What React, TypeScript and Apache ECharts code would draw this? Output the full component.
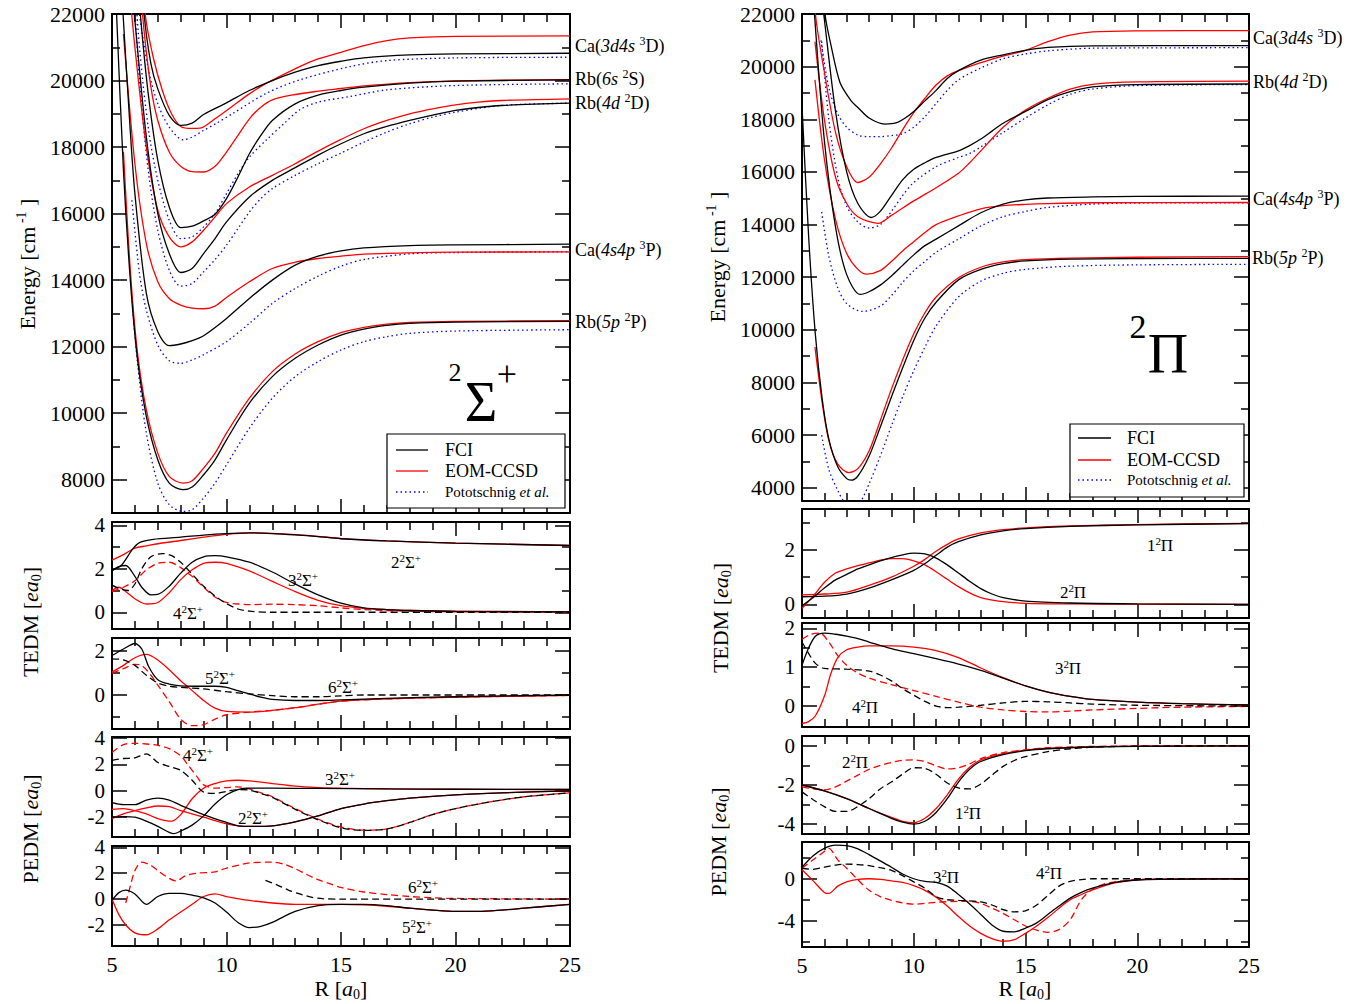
import React, { useEffect, useRef } from "react";
import * as echarts from "echarts";

const FONT = "'Liberation Serif', 'Times New Roman', Times, serif";
const BLACK = "#000000";
const RED = "#ff0000";
const BLUE = "#0000ff";

// ---------- tick values ----------
const xTicks = [5, 10, 15, 20, 25];
const sigEnergyTicks = [8000, 10000, 12000, 14000, 16000, 18000, 20000, 22000];
const sigEnergyMinor = [7000, 9000, 11000, 13000, 15000, 17000, 19000, 21000];
const piEnergyTicks = [4000, 6000, 8000, 10000, 12000, 14000, 16000, 18000, 20000, 22000];
const piEnergyMinor = [5000, 7000, 9000, 11000, 13000, 15000, 17000, 19000, 21000];
const sTedm1Ticks = [0, 2, 4];
const sTedm1Minor = [1, 3];
const sTedm2Ticks = [0, 2];
const sTedm2Minor = [-1, 1];
const sPedm1Ticks = [-2, 0, 2, 4];
const sPedm2Ticks = [-2, 0, 2, 4];
const pTedm1Ticks = [0, 2];
const pTedm1Minor = [1, 3];
const pTedm2Ticks = [0, 1, 2];
const pTedm2Minor = [0.5, 1.5];
const pPedm1Ticks = [-4, -2, 0];
const pPedm1Minor = [-3, -1];
const pPedm2Ticks = [-4, 0];
const pPedm2Minor = [-6, -2, 2];

// ---------- 2Sigma+ potential energy curves [R (a0), E (cm^-1)] ----------
const sig2Fci = [[5.05,24500],[5.2,22000],[5.5,17300],[5.8,14000],[6.1,11700],[6.5,9900],[7,8600],[7.5,7900],[8.1,7700],[8.5,7780],[9,8150],[9.5,8600],[10,9200],[11,10300],[12,11100],[13,11650],[14,12050],[15,12350],[16,12530],[17,12640],[18,12700],[20,12740],[25,12760]];
const sig2Eom = [[5.5,17860],[5.8,14300],[6.1,11900],[6.5,10100],[7,8800],[7.5,8100],[8.1,7900],[8.5,7970],[9,8350],[9.5,8800],[10,9400],[11,10450],[12,11250],[13,11780],[14,12150],[15,12420],[16,12580],[17,12680],[18,12730],[20,12760],[25,12780]];
const sig2Pot = [[5.87,13500],[6.1,11600],[6.5,9400],[7,7900],[7.5,7250],[8.1,7050],[8.5,7100],[9,7450],[9.5,7900],[10,8450],[11,9550],[12,10450],[13,11100],[14,11550],[15,11900],[16,12150],[17,12300],[18,12400],[20,12470],[25,12510]];
const sig3Fci = [[5.3,24000],[5.5,21800],[5.75,19000],[6,16600],[6.5,13600],[7,12450],[7.5,12030],[8,12080],[8.5,12180],[9,12330],[10,12850],[11,13450],[12,14000],[13,14450],[14,14720],[15,14880],[16,14970],[18,15040],[20,15060],[25,15080]];
const sig3Eom = [[5.5,21400],[6,17500],[6.5,15100],[7,13950],[7.5,13450],[8,13250],[8.5,13160],[9,13140],[9.5,13220],[10,13480],[11,13950],[12,14350],[13,14540],[14,14650],[15,14720],[16,14780],[18,14820],[20,14840],[25,14850]];
const sig3Pot = [[5.87,16400],[6.2,14200],[6.5,13100],[7,12050],[7.5,11580],[8,11500],[8.5,11600],[9,11760],[10,12150],[11,12700],[12,13300],[13,13750],[14,14120],[15,14420],[16,14620],[18,14790],[20,14830],[25,14850]];
const sig4Fci = [[5.7,24000],[6,21800],[6.5,18300],[7,16000],[7.5,14800],[8,14230],[8.5,14350],[9,14800],[9.5,15250],[10,15750],[11,16500],[12,17000],[13,17380],[14,17760],[15,18100],[16,18400],[17,18620],[18,18800],[19,18960],[20,19100],[21,19190],[22,19250],[25,19320]];
const sig4Eom = [[5.6,24000],[6,21000],[6.5,18000],[7,16100],[7.5,15300],[8,15000],[8.5,15150],[9,15500],[9.5,15900],[10,16300],[11,16800],[12,17150],[13,17500],[14,17880],[15,18230],[16,18550],[17,18800],[18,19000],[19,19150],[20,19270],[21,19350],[22,19400],[25,19450]];
const sig4Pot = [[5.85,24000],[6.2,20000],[6.6,17200],[7,15500],[7.5,14300],[8,13820],[8.5,13900],[9,14250],[9.5,14620],[10,15050],[10.5,15550],[11,16050],[11.5,16450],[12,16750],[13,17150],[14,17500],[15,17820],[16,18150],[17,18450],[18,18700],[19,18900],[20,19050],[22,19250],[25,19320]];
const sig5Fci = [[6,24000],[6.3,21500],[6.6,19500],[7,17600],[7.5,16200],[8,15580],[8.5,15620],[9,15780],[9.5,15980],[10,16450],[10.5,17100],[11,17800],[11.5,18350],[12,18800],[13,19300],[14,19560],[15,19700],[16,19800],[18,19920],[20,19980],[25,20020]];
const sig5Eom = [[6.1,24000],[6.4,21500],[6.7,19800],[7,18800],[7.5,17850],[8,17420],[8.5,17260],[9,17250],[9.5,17420],[10,17850],[10.5,18350],[11,18850],[11.5,19200],[12,19420],[13,19580],[14,19680],[15,19760],[16,19840],[18,19940],[20,19990],[25,20030]];
const sig5Pot = [[5.9,24000],[6.2,21000],[6.6,18500],[7,17000],[7.5,15800],[8,15250],[8.5,15300],[9,15600],[9.5,16000],[10,16600],[10.5,17200],[11,17700],[11.75,18220],[12.5,18700],[13.2,19120],[14,19350],[15.4,19520],[17,19720],[20,19850],[25,19900]];
const sig6Fci = [[6.2,24000],[6.4,22000],[6.7,20500],[7,19750],[7.5,18950],[8,18650],[8.5,18720],[9,18980],[10,19330],[11,19700],[12,20000],[13,20250],[14,20450],[15,20580],[16,20680],[18,20770],[20,20800],[25,20820]];
const sig6Eom = [[6.3,24000],[6.45,22000],[6.8,20700],[7.2,19700],[7.6,19000],[8,18620],[8.5,18560],[8.9,18580],[9.5,18850],[10.3,19250],[11,19600],[11.75,19920],[13.2,20420],[14,20650],[15,20850],[16,21050],[17,21200],[18,21280],[20,21330],[25,21340]];
const sig6Pot = [[5.9,24000],[6.2,22000],[6.6,20300],[7,19300],[7.5,18600],[8.1,18220],[8.5,18300],[9,18500],[9.57,18720],[10.3,19020],[11.75,19620],[13.2,20020],[15.4,20420],[17,20600],[20,20680],[25,20700]];

// ---------- 2Pi potential energy curves ----------
const pi1Fci = [[5,18500],[5.3,13500],[5.6,9800],[5.9,7400],[6.2,5850],[6.6,4800],[7,4350],[7.2,4290],[7.5,4450],[8,5200],[8.5,6300],[9,7450],[9.5,8550],[10,9600],[10.5,10450],[11,11050],[12,11900],[13,12300],[14,12520],[15,12620],[17,12690],[20,12710],[25,12720]];
const pi1Eom = [[5.58,9350],[5.9,7250],[6.2,5800],[6.6,4900],[7.1,4580],[7.5,4730],[8,5400],[8.5,6550],[9,7750],[9.5,8850],[10,9850],[10.5,10650],[11,11250],[12,11980],[13,12380],[14,12580],[15,12670],[17,12730],[20,12760],[25,12780]];
const pi1Pot = [[5.88,6000],[6.2,4700],[6.6,3900],[6.9,3450],[7.25,3250],[7.6,3450],[8,4150],[8.5,5200],[9,6350],[9.5,7450],[10,8450],[10.5,9350],[11,10150],[12,11250],[13,11850],[14,12150],[15,12300],[17,12420],[20,12470],[25,12490]];
const pi2Fci = [[5.4,24000],[5.6,21500],[6,17200],[6.5,13900],[7,12100],[7.6,11350],[8,11450],[8.5,11700],[9,12050],[9.5,12450],[10,12850],[10.5,13200],[11,13450],[12,13950],[13,14450],[14,14780],[15,14940],[16,15010],[18,15050],[20,15070],[25,15080]];
const pi2Eom = [[5.58,19500],[6,16500],[6.5,14200],[7,12900],[7.5,12300],[7.9,12120],[8.5,12250],[9,12600],[9.5,13000],[10,13350],[10.5,13700],[11,14000],[12,14330],[13,14600],[14,14720],[15,14770],[16,14800],[18,14830],[25,14840]];
const pi2Pot = [[5.88,14480],[6.2,12800],[6.6,11600],[7,11000],[7.7,10700],[8.5,10900],[9,11300],[9.5,11800],[10,12250],[10.5,12600],[11,12950],[12,13450],[13,13950],[14,14300],[15,14500],[16,14650],[18,14780],[20,14820],[25,14830]];
const pi3Fci = [[5.7,24000],[6,21800],[6.5,18300],[7,16000],[7.5,14800],[8.1,14270],[8.5,14500],[9,15100],[9.5,15700],[10,16100],[10.5,16350],[11,16550],[12,16800],[12.5,17000],[13,17250],[13.5,17550],[14,17850],[15,18300],[16,18750],[17,19050],[18,19230],[20,19320],[25,19340]];
const pi3Eom = [[5.58,20950],[6,18000],[6.5,15800],[7,14800],[7.5,14300],[8.4,14050],[9,14350],[10,14900],[11,15400],[12,15950],[12.5,16350],[13,16800],[14,17700],[15,18350],[16,18800],[17,19150],[18,19330],[20,19420],[25,19450]];
const pi3Pot = [[5.88,20950],[6.2,18000],[6.6,15800],[7,14700],[7.5,14100],[8,13870],[8.5,14000],[9,14500],[9.5,15100],[10,15600],[11,16200],[12,16550],[12.5,16700],[13,16950],[14,17500],[15,18050],[16,18550],[17,18950],[18,19150],[20,19280],[25,19320]];
const pi4Fci = [[5.9,24000],[6.03,22000],[6.3,20800],[6.7,19400],[7.2,18700],[7.5,18450],[8,18050],[8.7,17820],[9.2,17860],[9.6,18040],[10,18300],[10.5,18700],[11,19100],[11.5,19550],[12,19850],[13,20250],[14,20450],[15,20620],[16,20730],[18,20790],[25,20800]];
const pi4Eom = [[5.5,24000],[5.6,22000],[6,19800],[6.5,17500],[7,16200],[7.5,15600],[8,15800],[8.5,16300],[9,16900],[9.5,17600],[10,18250],[10.5,18800],[11,19300],[11.5,19650],[12,19850],[13,20150],[14,20400],[15,20620],[16,20950],[17,21200],[18,21320],[20,21360],[25,21370]];
const pi4Pot = [[5.85,21000],[6.2,19200],[6.6,18200],[7,17700],[7.5,17400],[8,17340],[8.5,17340],[9,17380],[9.5,17450],[10,17700],[10.5,18100],[11,18600],[11.5,19100],[12,19500],[13,19950],[14,20300],[15,20480],[16,20600],[18,20700],[25,20720]];

// ---------- 2Sigma+ TEDM / PEDM [R, ea0] ----------
const tdS2Fci = [[5,1.95],[5.4,2.15],[5.9,2.9],[6.2,3.2],[6.8,3.35],[8,3.45],[9,3.55],[10,3.62],[11,3.65],[12,3.62],[13,3.56],[14,3.48],[15,3.38],[17,3.28],[20,3.18],[25,3.07]];
const tdS2Eom = [[5,2.4],[5.5,2.65],[6,2.95],[6.5,3.05],[7,3.15],[8,3.3],[9,3.45],[10,3.58],[11,3.65],[12,3.63],[13,3.57],[14,3.49],[15,3.39],[17,3.28],[20,3.18],[25,3.07]];
const tdS3Fci = [[5,1.9],[5.3,2.1],[5.6,2.15],[6,1.65],[6.3,1.15],[6.7,0.8],[7,0.82],[7.5,1.2],[8,1.8],[8.5,2.3],[9,2.55],[9.5,2.6],[10,2.55],[11,2.3],[12,1.85],[13,1.3],[14,0.8],[15,0.42],[16,0.2],[17,0.12],[18,0.08],[20,0.04],[25,0.02]];
const tdS3Eom = [[5,1.0],[5.3,1.15],[5.6,0.95],[6,0.62],[6.5,0.38],[7,0.45],[7.5,0.9],[8,1.5],[8.5,1.95],[9,2.25],[9.5,2.3],[10,2.25],[11,1.9],[12,1.42],[13,0.95],[14,0.55],[15,0.3],[16,0.18],[17,0.12],[18,0.08],[20,0.05],[25,0.02]];
const tdS4Fci = [[5,1.25],[5.3,1.1],[5.7,1.0],[6,1.3],[6.3,2.0],[6.7,2.55],[7.2,2.7],[7.6,2.6],[8,2.3],[8.5,1.75],[9,1.2],[9.5,0.75],[10,0.4],[10.5,0.15],[11,0.05],[12,0.0],[25,0.0]];
const tdS4Eom = [[5,0.95],[5.5,1.15],[6,1.45],[6.5,1.95],[7,2.25],[7.5,2.3],[8,2.05],[8.5,1.65],[9,1.15],[9.5,0.7],[10,0.45],[10.5,0.38],[11,0.35],[12,0.37],[13,0.35],[14,0.3],[15,0.2],[16,0.12],[18,0.05],[20,0.02],[25,0.0]];
const tdS5Fci = [[5,1.8],[5.5,2.1],[6,2.35],[6.3,2.1],[6.6,1.3],[7,0.7],[7.5,0.5],[8,0.42],[9,0.4],[9.5,0.4],[10,0.35],[10.5,0.2],[11,0.05],[11.5,-0.1],[12,-0.2],[13,-0.25],[14,-0.25],[15,-0.22],[17,-0.15],[20,-0.08],[25,0.0]];
const tdS5Eom = [[5,1.05],[5.5,1.35],[6,1.7],[6.5,1.85],[7,1.6],[7.5,1.15],[8,0.65],[8.5,0.2],[9,-0.25],[9.5,-0.6],[10,-0.75],[11,-0.78],[12,-0.7],[13,-0.58],[14,-0.42],[15,-0.28],[17,-0.18],[20,-0.1],[25,-0.02]];
const tdS6Fci = [[5,1.65],[5.5,1.6],[6,1.35],[6.5,0.9],[7,0.55],[7.5,0.4],[8,0.35],[9,0.28],[10,0.15],[11,0.05],[12,-0.03],[13,-0.08],[14,-0.08],[15,-0.04],[16,0.0],[25,0.0]];
const tdS6Eom = [[5,1.0],[5.5,1.2],[6,1.4],[6.3,1.35],[6.7,0.9],[7,0.45],[7.5,-0.3],[8,-1.1],[8.5,-1.4],[9,-1.35],[9.5,-1.1],[10,-0.9],[11,-0.78],[12,-0.7],[13,-0.58],[14,-0.42],[15,-0.28],[17,-0.18],[20,-0.1],[25,-0.02]];

const pdS2Fci = [[5,-0.9],[5.5,-1.05],[6,-1.05],[6.5,-0.7],[7,-0.55],[7.5,-0.7],[8,-1.1],[9,-1.8],[10,-2.4],[10.5,-2.65],[11,-2.7],[12,-2.65],[13,-2.35],[14,-1.9],[15,-1.35],[16,-1.0],[17,-0.75],[18,-0.55],[20,-0.3],[22,-0.15],[25,0.0]];
const pdS2Eom = [[5,-2.1],[5.5,-1.75],[6,-1.5],[6.5,-1.3],[7,-1.15],[7.5,-1.2],[8,-1.5],[9,-2.0],[10,-2.5],[11,-2.7],[12,-2.65],[13,-2.35],[14,-1.9],[15,-1.35],[16,-1.0],[17,-0.75],[18,-0.55],[20,-0.3],[22,-0.15],[25,0.0]];
const pdS3Fci = [[5,-2.0],[5.5,-1.95],[6,-2.0],[6.5,-2.3],[7,-2.7],[7.5,-3.15],[7.7,-3.25],[8,-3.05],[8.5,-2.6],[9,-1.9],[9.5,-1.0],[10,-0.3],[10.5,0.1],[11,0.2],[12,0.2],[14,0.18],[17,0.15],[20,0.12],[25,0.1]];
const pdS3Eom = [[5,-1.4],[5.5,-1.35],[6,-1.5],[6.5,-1.75],[7,-2.1],[7.6,-2.3],[8,-1.8],[8.5,-0.6],[9,0.2],[9.5,0.55],[10,0.75],[10.5,0.8],[11,0.75],[12,0.55],[13,0.35],[14,0.25],[15,0.2],[17,0.15],[20,0.12],[25,0.1]];
const pdS4Fci = [[5,2.3],[5.5,2.45],[6,2.5],[6.5,2.8],[7,2.15],[7.5,1.85],[8,1.55],[8.5,0.8],[9,-0.1],[9.5,-0.2],[10,-0.05],[10.5,0.1],[11,0.05],[11.5,-0.2],[12,-0.5],[13,-1.4],[14,-2.2],[15,-2.8],[16,-3.0],[17,-2.9],[18,-2.4],[19,-1.8],[20,-1.35],[21,-1.0],[22,-0.7],[23,-0.45],[25,-0.15]];
const pdS4Eom = [[5,2.9],[5.5,3.5],[6,3.6],[6.5,3.55],[7,3.45],[7.5,3.2],[8,2.65],[8.3,2.0],[8.7,1.1],[9,0.45],[9.5,0.2],[10,0.25],[10.5,0.3],[11,0.15],[11.5,-0.15],[12,-0.45],[13,-1.35],[14,-2.15],[15,-2.75],[16,-2.98],[17,-2.88],[18,-2.4],[19,-1.8],[20,-1.35],[21,-1.0],[22,-0.7],[23,-0.45],[25,-0.15]];
const pdS5Fci = [[5,-0.1],[5.3,0.5],[5.6,0.7],[6,0.4],[6.5,-0.4],[7,0.2],[7.5,0.45],[8,0.45],[8.5,0.3],[9,0.1],[9.5,-0.3],[10,-1.0],[10.5,-1.8],[11,-2.2],[11.5,-2.1],[12,-1.8],[13,-0.95],[14,-0.5],[15,-0.4],[16,-0.4],[17,-0.5],[18,-0.7],[19,-0.85],[20,-0.95],[21,-0.95],[22,-0.85],[23,-0.7],[25,-0.4]];
const pdS5Eom = [[5,0.0],[5.3,-1.2],[5.6,-2.0],[6,-2.6],[6.5,-2.75],[7,-2.3],[7.5,-1.6],[8,-1.0],[8.5,-0.4],[9,0.2],[9.5,0.4],[10,0.2],[11,-0.1],[12,-0.3],[13,-0.4],[14,-0.4],[15,-0.4],[16,-0.45],[17,-0.55],[18,-0.7],[19,-0.85],[20,-0.95],[21,-0.95],[22,-0.85],[23,-0.7],[25,-0.4]];
const pdS6Fci = [[11.7,1.45],[12.2,1.1],[12.7,0.7],[13.2,0.4],[13.7,0.15],[14.2,0.03],[15,0.0],[25,0.0]];
const pdS6Eom = [[5.6,-0.3],[5.8,1.0],[6,2.2],[6.3,2.85],[6.7,2.6],[7,2.2],[7.5,1.6],[7.8,1.4],[8.2,1.8],[8.7,2.0],[9.5,2.1],[10,2.4],[10.5,2.6],[11,2.8],[12,2.85],[12.5,2.7],[13,2.35],[13.5,1.9],[14,1.5],[14.5,1.2],[15,0.9],[16,0.55],[17,0.35],[18,0.2],[19,0.1],[20,0.05],[25,0.0]];

// ---------- 2Pi TEDM / PEDM ----------
const tdP1Fci = [[5,0.28],[6,0.3],[7,0.38],[8,0.6],[9,0.9],[10,1.25],[10.5,1.5],[11,1.8],[11.5,2.1],[12,2.3],[13,2.55],[14,2.7],[15,2.78],[17,2.86],[20,2.92],[25,2.96]];
const tdP1Eom = [[5,0.35],[6,0.38],[7,0.45],[8,0.7],[9,1.0],[10,1.4],[10.5,1.65],[11,1.95],[11.5,2.2],[12,2.4],[13,2.62],[14,2.74],[15,2.81],[17,2.88],[20,2.93],[25,2.97]];
const tdP2Fci = [[5,-0.05],[5.5,0.25],[6,0.6],[6.5,0.9],[7,1.1],[7.5,1.3],[8,1.45],[8.5,1.6],[9,1.72],[9.5,1.82],[10,1.88],[10.5,1.85],[11,1.7],[11.5,1.45],[12,1.15],[12.5,0.85],[13,0.58],[13.5,0.38],[14,0.25],[15,0.12],[17,0.05],[20,0.02],[25,0.0]];
const tdP2Eom = [[5,-0.15],[5.5,0.3],[6,0.8],[6.5,1.15],[7,1.3],[7.5,1.42],[8,1.52],[8.5,1.62],[9,1.68],[9.5,1.68],[10,1.6],[10.5,1.45],[11,1.2],[11.5,0.92],[12,0.65],[12.5,0.42],[13,0.25],[14,0.1],[15,0.04],[17,0.02],[20,0.01],[25,0.0]];
const tdP3Fci = [[5,1.05],[5.3,1.5],[5.6,1.8],[6,1.88],[6.5,1.85],[7,1.8],[7.5,1.74],[8,1.65],[9,1.48],[10,1.35],[11,1.22],[12,1.08],[13,0.92],[14,0.72],[15,0.52],[16,0.36],[17,0.25],[18,0.17],[20,0.1],[22,0.06],[25,0.03]];
const tdP3Eom = [[5,-0.45],[5.3,-0.4],[5.6,-0.25],[6,0.25],[6.3,0.85],[6.6,1.25],[7,1.45],[7.5,1.52],[8,1.55],[9,1.55],[10,1.52],[11,1.43],[12,1.25],[13,0.98],[14,0.73],[15,0.52],[16,0.36],[17,0.25],[18,0.17],[20,0.1],[22,0.06],[25,0.03]];
const tdP4Fci = [[5,1.65],[5.3,1.35],[5.6,1.1],[6,0.97],[7,0.95],[8,0.9],[8.5,0.8],[9,0.65],[9.5,0.45],[10,0.28],[10.5,0.12],[11,0.0],[11.5,-0.04],[12,-0.03],[13,0.02],[14,0.08],[15,0.12],[16,0.11],[17,0.08],[18,0.05],[20,0.02],[25,0.0]];
const tdP4Eom = [[5,1.72],[5.4,1.85],[5.8,1.88],[6.2,1.65],[6.6,1.3],[7,1.05],[7.5,0.85],[8,0.72],[9,0.55],[10,0.4],[11,0.25],[12,0.1],[13,-0.03],[14,-0.1],[15,-0.14],[16,-0.15],[17,-0.13],[18,-0.1],[20,-0.06],[22,-0.03],[25,-0.01]];

const pdP1Fci = [[5,-2.0],[6,-2.3],[7,-2.7],[8,-3.2],[9,-3.7],[9.5,-3.9],[10,-4.0],[10.5,-3.85],[11,-3.4],[11.5,-2.7],[12,-1.85],[12.5,-1.2],[13,-0.8],[14,-0.45],[15,-0.25],[16,-0.15],[18,-0.06],[20,-0.03],[25,0.0]];
const pdP1Eom = [[5,-2.0],[6,-2.3],[7,-2.7],[8,-3.2],[9,-3.65],[9.5,-3.85],[10,-3.92],[10.5,-3.7],[11,-3.2],[11.5,-2.5],[12,-1.7],[12.5,-1.1],[13,-0.72],[14,-0.4],[15,-0.22],[16,-0.12],[18,-0.05],[20,-0.02],[25,0.0]];
const pdP2Fci = [[5,-2.35],[5.5,-2.75],[6,-3.1],[6.5,-3.35],[7,-3.35],[7.5,-3.1],[8,-2.7],[8.5,-2.2],[9,-1.85],[9.5,-1.45],[10,-1.12],[10.5,-1.15],[11,-1.45],[11.5,-1.9],[12,-2.15],[12.5,-2.2],[13,-1.95],[13.5,-1.5],[14,-1.05],[14.5,-0.75],[15,-0.55],[16,-0.3],[17,-0.15],[18,-0.07],[20,-0.02],[25,0.0]];
const pdP2Eom = [[5,-2.1],[5.5,-2.2],[6,-2.25],[6.5,-2.1],[7,-1.8],[7.5,-1.5],[8,-1.2],[8.5,-1.0],[9,-0.85],[9.5,-0.74],[10,-0.72],[10.5,-0.8],[11,-1.02],[11.5,-1.18],[12,-1.12],[12.5,-0.92],[13,-0.65],[14,-0.35],[15,-0.2],[16,-0.1],[18,-0.03],[20,-0.01],[25,0.0]];
const pdP3Fci = [[5,1.1],[5.5,2.2],[6,2.9],[6.5,3.2],[7,3.15],[7.5,2.85],[8,2.3],[8.5,1.7],[9,1.1],[9.5,0.45],[10,0.0],[10.5,-0.25],[11,-0.35],[11.5,-0.7],[12,-1.5],[12.5,-2.4],[13,-3.4],[13.5,-4.4],[14,-5.0],[14.5,-5.05],[15,-4.7],[15.5,-4.2],[16,-3.4],[16.5,-2.6],[17,-1.85],[17.5,-1.3],[18,-0.9],[19,-0.35],[20,-0.12],[21,-0.05],[25,0.0]];
const pdP3Eom = [[5,0.85],[5.5,-0.2],[6,-1.3],[6.2,-1.4],[6.6,-0.7],[7,-0.3],[7.5,-0.05],[8,0.0],[8.5,-0.05],[9,-0.2],[9.5,-0.35],[10,-0.65],[10.5,-1.1],[11,-1.75],[11.5,-2.6],[12,-3.6],[12.5,-4.5],[13,-5.2],[13.5,-5.7],[14,-5.95],[14.5,-5.8],[15,-5.2],[15.5,-4.5],[16,-3.7],[16.5,-2.8],[17,-2.0],[17.5,-1.5],[18,-1.05],[19,-0.4],[20,-0.1],[21,-0.04],[25,0.0]];
const pdP4Fci = [[5,1.0],[5.5,0.9],[6,1.1],[6.5,1.3],[7,1.4],[7.5,1.35],[8,1.25],[8.5,1.05],[9,0.8],[9.5,0.3],[10,-0.3],[10.5,-0.9],[11,-1.7],[11.5,-2.0],[12,-2.05],[13,-2.2],[13.5,-2.5],[14,-2.95],[14.5,-3.15],[15,-3.05],[15.5,-2.5],[16,-1.6],[16.5,-0.7],[17,-0.25],[17.5,-0.08],[18,0.0],[25,0.0]];
const pdP4Eom = [[5,1.0],[5.5,1.8],[6,2.6],[6.2,2.9],[6.6,1.8],[7,1.0],[7.5,-0.1],[8,-1.1],[8.5,-1.7],[9,-2.05],[9.5,-2.3],[10,-2.42],[10.5,-2.35],[11,-2.25],[12,-2.15],[12.5,-2.15],[13,-2.35],[13.5,-2.8],[14,-3.3],[14.5,-3.9],[15,-4.5],[15.5,-4.9],[16,-5.1],[16.5,-4.85],[17,-3.9],[17.5,-2.0],[18,-1.0],[18.5,-0.5],[19,-0.3],[20,-0.08],[22,-0.02],[25,0.0]];

// ---------- layout ----------
const GRID_BOXES = [
  { left: 112, top: 14, width: 458, height: 499 },
  { left: 112, top: 522, width: 458, height: 107 },
  { left: 112, top: 638, width: 458, height: 91 },
  { left: 112, top: 737, width: 458, height: 100 },
  { left: 112, top: 846, width: 458, height: 100 },
  { left: 802, top: 14, width: 447, height: 487 },
  { left: 802, top: 509, width: 447, height: 109 },
  { left: 802, top: 623, width: 447, height: 104 },
  { left: 802, top: 736, width: 447, height: 98 },
  { left: 802, top: 842, width: 447, height: 105 },
];
const Y_RANGES = [
  [7000, 22000], [-0.77, 4.15], [-1.55, 2.6], [-3.5, 4.08], [-3.62, 4.1],
  [3500, 22000], [-0.5, 3.5], [-0.54, 2.14], [-4.5, 0.5], [-6.5, 3.5],
];
const Y_MAJOR = [sigEnergyTicks, sTedm1Ticks, sTedm2Ticks, sPedm1Ticks, sPedm2Ticks, piEnergyTicks, pTedm1Ticks, pTedm2Ticks, pPedm1Ticks, pPedm2Ticks];
const Y_MINOR = [sigEnergyMinor, sTedm1Minor, sTedm2Minor, [], [], piEnergyMinor, pTedm1Minor, pTedm2Minor, pPedm1Minor, pPedm2Minor];

function buildOption() {
  const axLine = { show: true, onZero: false, lineStyle: { color: BLACK, width: 2 } };
  const tickStyle = { color: BLACK, width: 1.5 };
  const xAxis: any[] = [];
  const yAxis: any[] = [];
  GRID_BOXES.forEach((_, g) => {
    const bottomLabels = g === 4 || g === 9;
    ["bottom", "top"].forEach((pos, k) => {
      xAxis.push({
        type: "value", gridIndex: g, min: 5, max: 25, interval: 5, position: pos,
        axisLine: axLine,
        axisTick: { show: true, inside: true, length: 14, lineStyle: tickStyle },
        minorTick: { show: true, splitNumber: 5, length: 8, lineStyle: tickStyle },
        axisLabel: {
          show: bottomLabels && k === 0, color: BLACK, fontFamily: FONT, fontSize: 22, margin: 7,
          formatter: (v: number) => (xTicks.includes(v) ? String(v) : ""),
        },
        splitLine: { show: false }, minorSplitLine: { show: false },
      });
    });
    const [ymin, ymax] = Y_RANGES[g];
    const main = g === 0 || g === 5;
    ["left", "right"].forEach((pos) => {
      yAxis.push({
        type: "value", gridIndex: g, min: ymin, max: ymax, position: pos,
        axisLine: axLine,
        axisTick: { show: true, inside: true, length: 15, lineStyle: tickStyle, customValues: Y_MAJOR[g] },
        axisLabel: {
          show: pos === "left", customValues: Y_MAJOR[g], color: BLACK, fontFamily: FONT,
          fontSize: main ? 22 : 21, margin: 7, formatter: (v: number) => String(v),
        },
        splitLine: { show: false },
      });
      const mn = Y_MINOR[g];
      yAxis.push({
        type: "value", gridIndex: g, min: ymin, max: ymax, position: pos,
        axisLine: { show: false },
        axisTick: { show: mn.length > 0, inside: true, length: 8, lineStyle: tickStyle, customValues: mn.length ? mn : [ymin] },
        axisLabel: { show: false },
        splitLine: { show: false },
      });
    });
  });

  const line = (data: number[][], g: number, color: string, dash?: string) => ({
    type: "line", data, xAxisIndex: g * 2, yAxisIndex: g * 4, symbol: "none", showSymbol: false,
    smooth: 0.3, clip: true, silent: true, animation: false,
    lineStyle: { color, width: 1.3, type: dash === "dash" ? [7, 4] : dash === "dot" ? [1.5, 3] : "solid" },
    z: color === BLUE ? 2 : color === RED ? 3 : 4,
  });

  const series: any[] = [
    line(sig2Pot, 0, BLUE, "dot"), line(sig3Pot, 0, BLUE, "dot"), line(sig4Pot, 0, BLUE, "dot"), line(sig5Pot, 0, BLUE, "dot"), line(sig6Pot, 0, BLUE, "dot"),
    line(sig2Eom, 0, RED), line(sig3Eom, 0, RED), line(sig4Eom, 0, RED), line(sig5Eom, 0, RED), line(sig6Eom, 0, RED),
    line(sig2Fci, 0, BLACK), line(sig3Fci, 0, BLACK), line(sig4Fci, 0, BLACK), line(sig5Fci, 0, BLACK), line(sig6Fci, 0, BLACK),
    line(tdS2Eom, 1, RED), line(tdS3Eom, 1, RED), line(tdS4Eom, 1, RED, "dash"),
    line(tdS2Fci, 1, BLACK), line(tdS3Fci, 1, BLACK), line(tdS4Fci, 1, BLACK, "dash"),
    line(tdS5Eom, 2, RED), line(tdS6Eom, 2, RED, "dash"),
    line(tdS5Fci, 2, BLACK), line(tdS6Fci, 2, BLACK, "dash"),
    line(pdS2Eom, 3, RED), line(pdS3Eom, 3, RED), line(pdS4Eom, 3, RED, "dash"),
    line(pdS2Fci, 3, BLACK), line(pdS3Fci, 3, BLACK), line(pdS4Fci, 3, BLACK, "dash"),
    line(pdS5Eom, 4, RED), line(pdS6Eom, 4, RED, "dash"),
    line(pdS5Fci, 4, BLACK), line(pdS6Fci, 4, BLACK, "dash"),
    line(pi1Pot, 5, BLUE, "dot"), line(pi2Pot, 5, BLUE, "dot"), line(pi3Pot, 5, BLUE, "dot"), line(pi4Pot, 5, BLUE, "dot"),
    line(pi1Eom, 5, RED), line(pi2Eom, 5, RED), line(pi3Eom, 5, RED), line(pi4Eom, 5, RED),
    line(pi1Fci, 5, BLACK), line(pi2Fci, 5, BLACK), line(pi3Fci, 5, BLACK), line(pi4Fci, 5, BLACK),
    line(tdP1Eom, 6, RED), line(tdP2Eom, 6, RED), line(tdP1Fci, 6, BLACK), line(tdP2Fci, 6, BLACK),
    line(tdP3Eom, 7, RED), line(tdP4Eom, 7, RED, "dash"), line(tdP3Fci, 7, BLACK), line(tdP4Fci, 7, BLACK, "dash"),
    line(pdP1Eom, 8, RED), line(pdP2Eom, 8, RED, "dash"), line(pdP1Fci, 8, BLACK), line(pdP2Fci, 8, BLACK, "dash"),
    line(pdP3Eom, 9, RED), line(pdP4Eom, 9, RED, "dash"), line(pdP3Fci, 9, BLACK), line(pdP4Fci, 9, BLACK, "dash"),
  ];

  const rich = (fs: number) => {
    const sf = Math.round(fs * 0.65);
    return {
      n: { fontSize: fs, fontFamily: FONT, fill: BLACK, lineHeight: Math.round(fs * 1.2) },
      i: { fontSize: fs, fontFamily: FONT, fontStyle: "italic", fill: BLACK, lineHeight: Math.round(fs * 1.2) },
      s: { fontSize: sf, fontFamily: FONT, fill: BLACK, verticalAlign: "top", lineHeight: sf },
      b: { fontSize: sf, fontFamily: FONT, fill: BLACK, verticalAlign: "bottom", lineHeight: sf },
    };
  };
  const T = (x: number, y: number, text: string, fs: number, align = "left", rot = 0, va = "middle") => ({
    type: "text", x, y, z: 100, silent: true, rotation: rot,
    style: {
      text, fontSize: fs, fontFamily: FONT, fill: BLACK,
      align, textAlign: align, verticalAlign: va, textVerticalAlign: va, rich: rich(fs),
    },
  });
  const sig = (n: string) => `{n|${n}}{s|2}{n|Σ}{s|+}`;
  const pi = (n: string) => `{n|${n}}{s|2}{n|Π}`;
  const legend = (x0: number, y0: number, w: number, h: number, lx1: number, lx2: number, tx: number, ys: number[]) => [
    { type: "rect", z: 100, silent: true, shape: { x: x0, y: y0, width: w, height: h }, style: { fill: "#fff", stroke: BLACK, lineWidth: 1.2 } },
    { type: "line", z: 101, silent: true, shape: { x1: lx1, y1: ys[0], x2: lx2, y2: ys[0] }, style: { stroke: BLACK, lineWidth: 1.3 } },
    { type: "line", z: 101, silent: true, shape: { x1: lx1, y1: ys[1], x2: lx2, y2: ys[1] }, style: { stroke: RED, lineWidth: 1.3 } },
    { type: "line", z: 101, silent: true, shape: { x1: lx1, y1: ys[2], x2: lx2, y2: ys[2] }, style: { stroke: BLUE, lineWidth: 1.3, lineDash: [1.5, 3] } },
    { ...T(tx, ys[0], "FCI", 18), z: 101 },
    { ...T(tx, ys[1], "EOM-CCSD", 18), z: 101 },
    { ...T(tx, ys[2], "{n|Pototschnig }{i|et al.}", 15), z: 101 },
  ];
  const R90 = Math.PI / 2;

  const graphic: any[] = [
    T(575, 46, "{n|Ca(}{i|3d4s}{n| }{s|3}{n|D)}", 18),
    T(575, 79, "{n|Rb(}{i|6s}{n| }{s|2}{n|S)}", 18),
    T(575, 103, "{n|Rb(}{i|4d}{n| }{s|2}{n|D)}", 18),
    T(575, 250, "{n|Ca(}{i|4s4p}{n| }{s|3}{n|P)}", 18),
    T(575, 322, "{n|Rb(}{i|5p}{n| }{s|2}{n|P)}", 18),
    T(1253, 38, "{n|Ca(}{i|3d4s}{n| }{s|3}{n|D)}", 18),
    T(1253, 82, "{n|Rb(}{i|4d}{n| }{s|2}{n|D)}", 18),
    T(1253, 199, "{n|Ca(}{i|4s4p}{n| }{s|3}{n|P)}", 18),
    T(1252, 258, "{n|Rb(}{i|5p}{n| }{s|2}{n|P)}", 18),
    T(455, 372, "2", 26, "center"),
    T(481, 402, "Σ", 56, "center"),
    T(507, 374, "+", 36, "center"),
    T(1138, 326, "2", 34, "center"),
    T(1168, 354, "Π", 56, "center"),
    ...legend(387, 434, 178, 74, 396, 428, 445, [450, 471, 492]),
    ...legend(1070, 424, 174, 73, 1078, 1111, 1127, [438, 460, 480]),
    T(27, 264, "{n|Energy [cm}{s| -1}{n| ]}", 22, "center", R90),
    T(717, 257, "{n|Energy [cm}{s| -1}{n| ]}", 22, "center", R90),
    T(30, 622, "{n|TEDM [}{i|ea}{b|0}{n|]}", 22, "center", R90),
    T(30, 829, "{n|PEDM [}{i|ea}{b|0}{n|]}", 22, "center", R90),
    T(720, 618, "{n|TEDM [}{i|ea}{b|0}{n|]}", 22, "center", R90),
    T(718, 842, "{n|PEDM [}{i|ea}{b|0}{n|]}", 22, "center", R90),
    T(341, 988, "{n|R [}{i|a}{b|0}{n|]}", 22, "center"),
    T(1025, 988, "{n|R [}{i|a}{b|0}{n|]}", 22, "center"),
    T(303, 580, sig("3"), 17, "center"),
    T(188, 613, sig("4"), 17, "center"),
    T(406, 562, sig("2"), 17, "center"),
    T(220, 678, sig("5"), 17, "center"),
    T(343, 687, sig("6"), 17, "center"),
    T(198, 755, sig("4"), 17, "center"),
    T(340, 779, sig("3"), 17, "center"),
    T(253, 818, sig("2"), 17, "center"),
    T(423, 887, sig("6"), 17, "center"),
    T(417, 927, sig("5"), 17, "center"),
    T(1160, 545, pi("1"), 17, "center"),
    T(1073, 592, pi("2"), 17, "center"),
    T(1068, 668, pi("3"), 17, "center"),
    T(865, 707, pi("4"), 17, "center"),
    T(855, 762, pi("2"), 17, "center"),
    T(968, 813, pi("1"), 17, "center"),
    T(946, 877, pi("3"), 17, "center"),
    T(1049, 873, pi("4"), 17, "center"),
  ];

  return {
    animation: false,
    backgroundColor: "#ffffff",
    textStyle: { fontFamily: FONT },
    grid: GRID_BOXES.map((b) => ({ ...b, containLabel: false })),
    xAxis, yAxis, series, graphic,
  };
}

export default function App() {
  const ref = useRef<HTMLDivElement>(null);
  useEffect(() => {
    if (!ref.current) return;
    const chart = echarts.init(ref.current, null, { renderer: "svg" });
    chart.setOption(buildOption() as any);
    return () => chart.dispose();
  }, []);
  return (
    <div
      ref={ref}
      style={{ position: "absolute", left: 0, top: 0, width: 1372, height: 1004, background: "#fff" }}
    />
  );
}
